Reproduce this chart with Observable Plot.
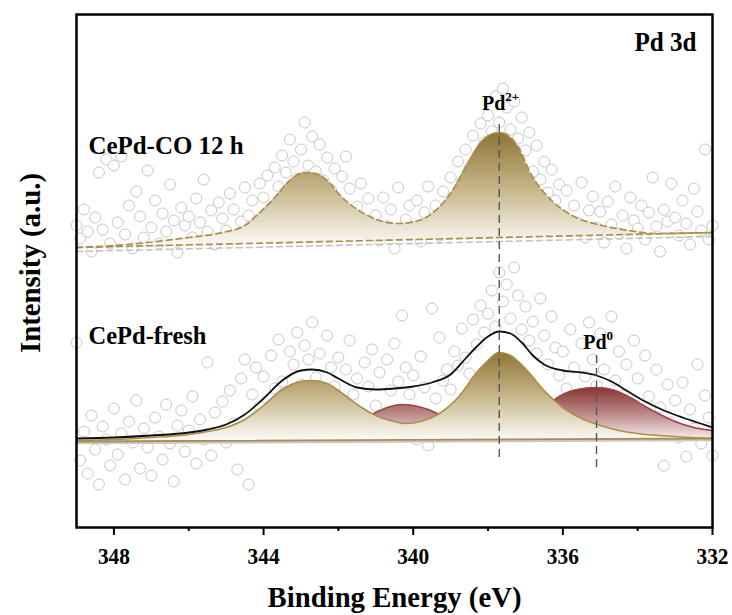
<!DOCTYPE html>
<html><head><meta charset="utf-8">
<script src="https://cdn.jsdelivr.net/npm/d3@7"></script>
<script src="https://cdn.jsdelivr.net/npm/@observablehq/plot@0.6"></script>
<style>body{margin:0;background:#fff}#chart{width:732px;height:615px}</style>
</head><body><div id="chart"></div>
<script>
// Scan grid (binding energy, eV) shared by both raw spectra
const energyStart = 349, energyStep = 0.1;

// Raw XPS counts (a.u.), 349.0 -> 332.0 eV
const freshCounts = [
 185,67,96,54,112,78,43,101,88,62,
 119,73,94,48,106,85,127,59,99,80,
 52,110,91,68,123,84,46,102,117,76,
 97,131,64,108,88,165,72,115,95,126,
 85,137,104,58,149,168,43,133,160,121,
 151,118,172,139,188,146,129,176,163,195,
 143,182,168,205,150,174,131,192,160,141,
 170,126,158,187,133,149,112,165,141,178,
 122,155,98,168,137,184,146,212,160,133,
 152,88,171,140,82,219,129,190,147,158,
 138,176,162,199,170,154,208,183,222,195,
 214,237,201,255,226,243,209,260,232,198,
 221,187,206,174,229,192,163,211,180,152,
 176,139,198,160,127,184,151,205,168,142,
 194,158,121,211,147,176,132,163,108,187,
 149,116,172,131,98,158,120,62,143,105,
 127,90,145,71,118,99,163,84,132,110,
 72];
const co12hCounts = [
 302,289,318,296,276,310,355,298,368,284,
 362,305,371,293,322,279,336,311,290,357,
 300,327,284,314,296,343,307,275,320,302,
 311,290,329,305,348,296,317,283,325,309,
 297,334,318,289,306,340,312,327,301,344,
 330,352,317,360,341,372,355,388,366,349,
 378,405,362,391,356,383,347,370,338,359,
 326,351,371,339,297,321,344,305,329,294,
 312,287,330,301,318,279,340,295,308,322,
 298,327,286,315,341,304,322,292,336,318,
 350,329,366,345,378,359,392,371,404,385,
 412,396,431,405,439,420,398,426,389,410,
 377,395,356,382,348,366,335,358,327,343,
 311,337,298,322,305,345,290,317,331,300,
 316,285,326,303,341,294,312,279,330,307,
 299,322,288,315,350,301,276,318,306,344,
 310,292,327,304,283,339,316,297,378,288,
 302];

// Fitted curves [eV, intensity]
const freshPd2Fit = [[349,87],[348,88],[347,90],[346,93],[345.5,96],[345,100],[344.5,108],[344,122],[343.5,138],[343,146],[342.7,147],[342.3,144],[342,137],[341.5,123],[341,112],[340.5,106],[340.2,104],[339.8,106],[339.3,114],[338.8,130],[338.3,155],[338,167],[337.7,175],[337.4,172],[337,159],[336.5,137],[336,120],[335.5,109],[335,102],[334.5,97],[334,94],[333,91],[332,89]];
const freshPd0Fit = [[349,86],[345,87],[343.5,87],[343,88],[342.5,90],[342,95],[341.5,105],[341,115],[340.6,121],[340.3,123],[340,122],[339.6,118],[339.2,111],[338.8,103],[338.3,96],[337.8,92],[337.3,93],[336.8,102],[336.5,115],[336.3,125],[336,133],[335.6,138],[335.1,140],[334.6,137],[334.2,130],[333.8,121],[333.4,113],[333,106],[332.5,100],[332,97]];
const freshEnvelope = [[349,89],[348,90],[347,92],[346,95],[345.5,98],[345,103],[344.5,113],[344,129],[343.5,147],[343,157],[342.7,158],[342.3,155],[342,149],[341.5,140],[341,138],[340.5,139],[340,141],[339.5,145],[339,153],[338.6,169],[338.3,181],[338,191],[337.7,196],[337.4,194],[337.1,185],[336.8,172],[336.5,163],[336,157],[335.5,155],[335.1,152],[334.7,146],[334.3,137],[333.8,126],[333.3,117],[332.8,110],[332.4,105],[332,100]];
const co12hPd2Fit = [[349,280],[348,282],[347.1,285],[346,290],[345.1,295],[344.5,302],[344.1,315],[343.7,330],[343.3,347],[342.9,355],[342.6,354],[342.3,347],[341.9,330],[341.45,317],[340.9,307],[340.4,304],[339.85,307],[339.4,317],[338.95,337],[338.5,367],[338.15,387],[337.7,395],[337.25,384],[336.8,350],[336.3,327],[335.75,312],[334.95,302],[334.25,297],[333.5,294],[332,295]];

// Backgrounds [eV, intensity]
const freshBaseline = [[349,86],[332,89]];
const freshBackground = [[349,84.5],[332,87.5]];
const co12hBaseline = [[349,280],[332,295]];
const co12hBackground = [[349,276],[332,291]];

// Peak position markers
const markerEnergy = [337.7, 335.1];
const markerLow = [70, 60];
const markerHigh = [404, 174];
const markerNames = ["Pd", "Pd"];
const markerSups = ["2+", "0"];

const sampleLabels = ["CePd-CO 12 h", "CePd-fresh"];
const panelTitle = ["Pd 3d"];
const xTicks = [348, 344, 340, 336, 332];
const xMinorTicks = [346, 342, 338, 334];
const xTitle = ["Binding Energy (eV)"];
const yTitle = ["Intensity (a.u.)"];

// ---- build tables
const rowsFrom = counts => counts.map((v, i) => ({e: +(energyStart - i * energyStep).toFixed(2), v}));
const pairs = arr => arr.map(([e, v]) => ({e, v}));
const freshRows = rowsFrom(freshCounts), coRows = rowsFrom(co12hCounts);
const freshBase = d3.scaleLinear(freshBaseline.map(d => d[0]), freshBaseline.map(d => d[1]));
const coBase = d3.scaleLinear(co12hBaseline.map(d => d[0]), co12hBaseline.map(d => d[1]));
const markers = markerEnergy.map((e, i) => ({e, lo: markerLow[i], hi: markerHigh[i], name: markerNames[i], sup: markerSups[i]}));

const gradients = () => {
  const d = document.createElementNS("http://www.w3.org/2000/svg", "defs");
  d.innerHTML = `
  <linearGradient id="goldGrad" x1="0" y1="0" x2="0" y2="1">
    <stop offset="0" stop-color="#8c7434"/>
    <stop offset="0.45" stop-color="#c2b082"/>
    <stop offset="1" stop-color="#fdfcf8"/>
  </linearGradient>
  <linearGradient id="redGrad" x1="0" y1="0" x2="0" y2="1">
    <stop offset="0" stop-color="#863232"/>
    <stop offset="0.55" stop-color="#c29393"/>
    <stop offset="1" stop-color="#fcf5f5"/>
  </linearGradient>`;
  return d;
};

const font = "'Liberation Serif','Times New Roman',serif";
const gold = "#a88f4c", red = "#9c4646";
const crv = "monotone-x";
const first = (d, i) => i === 0, second = (d, i) => i === 1;

const chart = Plot.plot({
  width: 732, height: 615,
  marginTop: 14, marginRight: 20, marginBottom: 88, marginLeft: 76,
  style: {fontFamily: font, background: "white", color: "black"},
  x: {domain: [349, 332]},
  y: {domain: [0, 513], axis: null},
  marks: [
    gradients,
    // raw data
    Plot.dot(freshRows, {x: "e", y: "v", r: 5.5, stroke: "#c6c6c6", strokeWidth: 1, fill: "white"}),
    Plot.dot(coRows, {x: "e", y: "v", r: 5.5, stroke: "#c6c6c6", strokeWidth: 1, fill: "white"}),
    // fresh fit
    Plot.areaY(pairs(freshPd0Fit), {x: "e", y1: d => freshBase(d.e), y2: "v", fill: "url(#redGrad)", curve: crv}),
    Plot.line(pairs(freshPd0Fit), {x: "e", y: "v", stroke: red, strokeWidth: 1.5, curve: crv}),
    Plot.areaY(pairs(freshPd2Fit), {x: "e", y1: d => freshBase(d.e), y2: "v", fill: "url(#goldGrad)", curve: crv}),
    Plot.line(pairs(freshBackground), {x: "e", y: "v", stroke: "#c8c8c8", strokeWidth: 2.5}),
    Plot.line(pairs(freshBaseline), {x: "e", y: "v", stroke: gold, strokeWidth: 1.8}),
    Plot.line(pairs(freshPd2Fit), {x: "e", y: "v", stroke: gold, strokeWidth: 1.6, curve: crv}),
    Plot.line(pairs(freshEnvelope), {x: "e", y: "v", stroke: "#111", strokeWidth: 1.8, curve: crv}),
    // CO 12 h fit
    Plot.areaY(pairs(co12hPd2Fit), {x: "e", y1: d => coBase(d.e), y2: "v", fill: "url(#goldGrad)", curve: crv}),
    Plot.line(pairs(co12hBackground), {x: "e", y: "v", stroke: "#c4c4c4", strokeWidth: 1.6, strokeDasharray: "6,4"}),
    Plot.line(pairs(co12hBaseline), {x: "e", y: "v", stroke: gold, strokeWidth: 1.7, strokeDasharray: "6,4"}),
    Plot.line(pairs(co12hPd2Fit), {x: "e", y: "v", stroke: gold, strokeWidth: 1.7, strokeDasharray: "6,4", curve: crv}),
    // markers
    Plot.ruleX(markers, {x: "e", y1: "lo", y2: "hi", stroke: "#555", strokeWidth: 1.4, strokeDasharray: "8,5"}),
    Plot.text(markers, {x: "e", text: "name", frameAnchor: "top", textAnchor: "end", lineAnchor: "bottom", fontSize: 20, fontWeight: "bold", filter: first, dx: 6, dy: 95}),
    Plot.text(markers, {x: "e", text: "sup", frameAnchor: "top", textAnchor: "start", lineAnchor: "bottom", fontSize: 13, fontWeight: "bold", filter: first, dx: 6, dy: 86}),
    Plot.text(markers, {x: "e", text: "name", frameAnchor: "top", textAnchor: "end", lineAnchor: "bottom", fontSize: 20, fontWeight: "bold", filter: second, dx: 10, dy: 334}),
    Plot.text(markers, {x: "e", text: "sup", frameAnchor: "top", textAnchor: "start", lineAnchor: "bottom", fontSize: 13, fontWeight: "bold", filter: second, dx: 10, dy: 325}),
    // sample labels
    Plot.text([sampleLabels[0]], {text: d => d, frameAnchor: "top-left", dx: 12, dy: 139, textAnchor: "start", lineAnchor: "bottom", fontSize: 25, fontWeight: "bold"}),
    Plot.text([sampleLabels[1]], {text: d => d, frameAnchor: "top-left", dx: 12, dy: 329, textAnchor: "start", lineAnchor: "bottom", fontSize: 25, fontWeight: "bold"}),
    Plot.text(panelTitle, {text: d => d, frameAnchor: "top-right", dx: -16, dy: 36, textAnchor: "end", lineAnchor: "bottom", fontSize: 27, fontWeight: "bold"}),
    // axes
    Plot.frame({stroke: "black", strokeWidth: 2.5}),
    Plot.axisX(xTicks, {tickSize: 8, tickPadding: 12, strokeWidth: 2, fontSize: 23, fontWeight: "bold", tickFormat: d => String(d), label: null}),
    Plot.axisX(xMinorTicks, {tickSize: 4, strokeWidth: 2, tickFormat: () => "", label: null}),
    Plot.text(xTitle, {text: d => d, frameAnchor: "bottom", dy: 79, textAnchor: "middle", lineAnchor: "bottom", fontSize: 30, fontWeight: "bold"}),
    Plot.text(yTitle, {text: d => d, frameAnchor: "left", dx: -46, dy: -8, rotate: -90, textAnchor: "middle", lineAnchor: "middle", fontSize: 29, fontWeight: "bold"})
  ]
});

// Times-like condensed look: fit the texts to the widths they take in the reference
const fitWidths = new Map([
  ["Binding Energy (eV)", 254], ["Intensity (a.u.)", 180], ["CePd-CO 12 h", 155],
  ["CePd-fresh", 118], ["Pd 3d", 62], ["348", 32], ["344", 32], ["340", 32], ["336", 32], ["332", 32]
]);
chart.querySelectorAll("text").forEach(t => {
  const w = fitWidths.get(t.textContent);
  if (w) { t.setAttribute("textLength", w); t.setAttribute("lengthAdjust", "spacingAndGlyphs"); }
});
document.getElementById("chart").appendChild(chart);
</script>
</body></html>
